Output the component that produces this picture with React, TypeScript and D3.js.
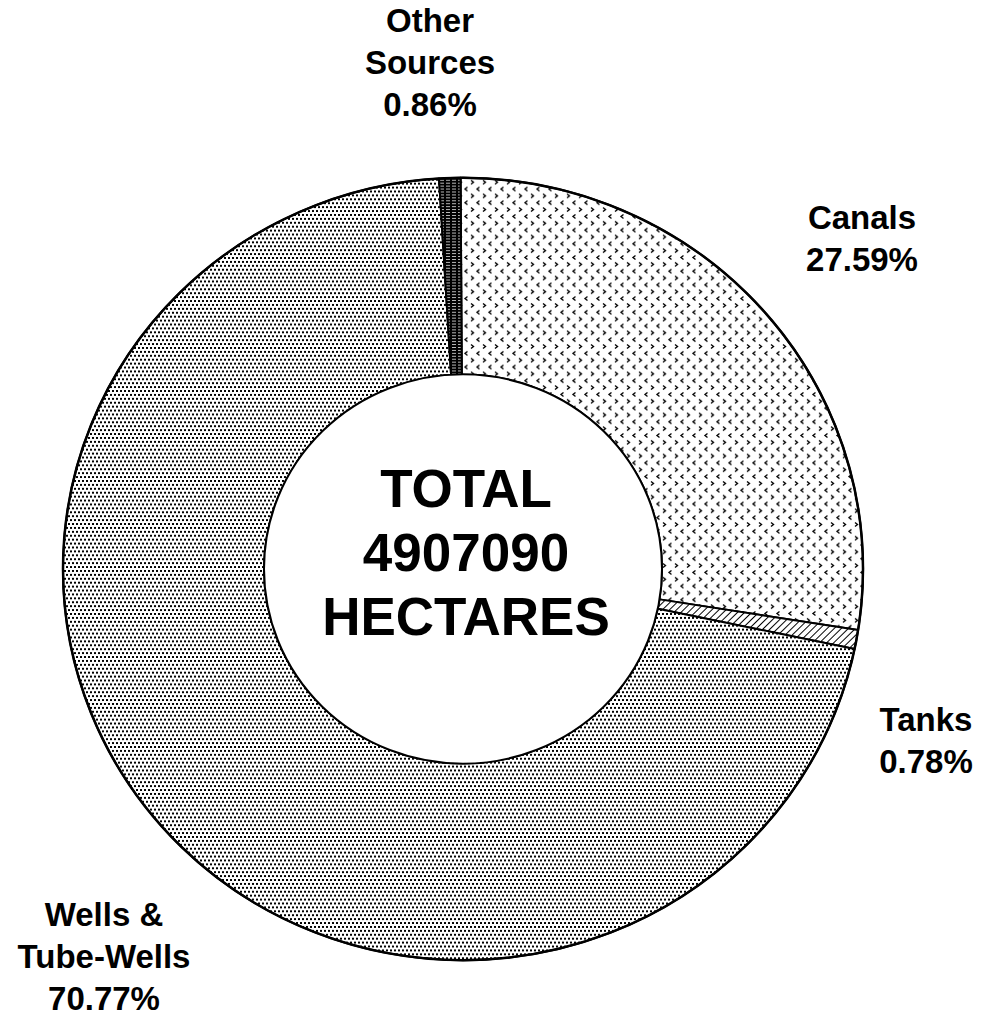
import * as d3 from "d3";

// data
const categories = ["Canals", "Tanks", "Wells & Tube-Wells", "Other Sources"];
const shares = [27.59, 0.78, 70.77, 0.86];
const labelNames = [["Canals"], ["Tanks"], ["Wells &", "Tube-Wells"], ["Other", "Sources"]];
const totalHectares = 4907090;
const centerLines = ["TOTAL", String(totalHectares), "HECTARES"];

const W = 982;
const H = 1016;
const CX = 463;
const CY = 569;
const R_OUT = 400;
const R_IN = 199;
const Y_SQUASH = 0.978;
const START = -0.006;

const FILLS = ["url(#pCanals)", "url(#pTanks)", "url(#pWells)", "url(#pOther)"];
// label anchor (centre x, first baseline) per slice
const LABEL_POS: [number, number][] = [
  [862, 229],
  [926, 731],
  [104, 926],
  [430, 32],
];
const LINE_H = 42;
const FONT = "'Liberation Sans', Arial, Helvetica, sans-serif";

export default function App() {
  const pie = d3
    .pie<number>()
    .sort(null)
    .value((d) => d)
    .startAngle(START)
    .endAngle(START + Math.PI * 2);
  const arcs = pie(shares);
  const arc = d3.arc<d3.PieArcDatum<number>>().innerRadius(R_IN).outerRadius(R_OUT);

  return (
    <svg
      width={W}
      height={H}
      style={{ position: "absolute", left: 0, top: 0, background: "#fff" }}
      fontFamily={FONT}
    >
      <defs>
        <pattern id="pCanals" width={12} height={14} patternUnits="userSpaceOnUse">
          <rect width={12} height={14} fill="#fff" />
          <path d="M4.5,1.5 L2,3.5 L4.5,5.5" fill="none" stroke="#000" strokeWidth={1.4} />
          <path d="M8,8.5 L10.5,10.5 L8,12.5" fill="none" stroke="#000" strokeWidth={1.4} />
        </pattern>
        <pattern id="pWells" width={8} height={8} patternUnits="userSpaceOnUse">
          <rect width={8} height={8} fill="#fff" />
          <rect x={1} y={1} width={2} height={2} fill="#000" />
          <rect x={5} y={1} width={2} height={2} fill="#000" />
          <rect x={3} y={5} width={2} height={2} fill="#000" />
          <rect x={7} y={5} width={2} height={2} fill="#000" />
          <rect x={-1} y={5} width={2} height={2} fill="#000" />
        </pattern>
        <pattern id="pOther" width={6} height={3} patternUnits="userSpaceOnUse">
          <rect width={6} height={3} fill="#000" />
          <rect x={1} y={1} width={4} height={1} fill="#bbb" />
        </pattern>
        <pattern
          id="pTanks"
          width={5}
          height={5}
          patternUnits="userSpaceOnUse"
          patternTransform="rotate(45)"
        >
          <rect width={5} height={5} fill="#fff" />
          <line x1={0} y1={0} x2={0} y2={5} stroke="#000" strokeWidth={2} />
        </pattern>
      </defs>

      <g transform={`translate(${CX},${CY}) scale(1,${Y_SQUASH})`}>
        {arcs.map((a, i) => (
          <path
            key={categories[i]}
            d={arc(a) ?? ""}
            fill={FILLS[i]}
            stroke="#000"
            strokeWidth={2}
            strokeLinejoin="round"
          />
        ))}
        <circle r={R_OUT} fill="none" stroke="#000" strokeWidth={2.5} />
        <circle r={R_IN} fill="#fff" stroke="#000" strokeWidth={2} />
      </g>

      {/* centre text */}
      <g textAnchor="middle" fontWeight="bold" fontSize={53} fill="#000">
        {centerLines.map((t, i) => (
          <text key={t} x={466} y={507 + i * 64}>
            {t}
          </text>
        ))}
      </g>

      {/* slice labels */}
      <g textAnchor="middle" fontWeight="bold" fontSize={33} fill="#000">
        {arcs.map((a, i) => {
          const lines = [...labelNames[i], `${shares[i].toFixed(2)}%`];
          const [lx, ly] = LABEL_POS[i];
          return (
            <text key={categories[i]}>
              {lines.map((t, j) => (
                <tspan key={j} x={lx} y={ly + j * LINE_H}>
                  {t}
                </tspan>
              ))}
            </text>
          );
        })}
      </g>
    </svg>
  );
}
